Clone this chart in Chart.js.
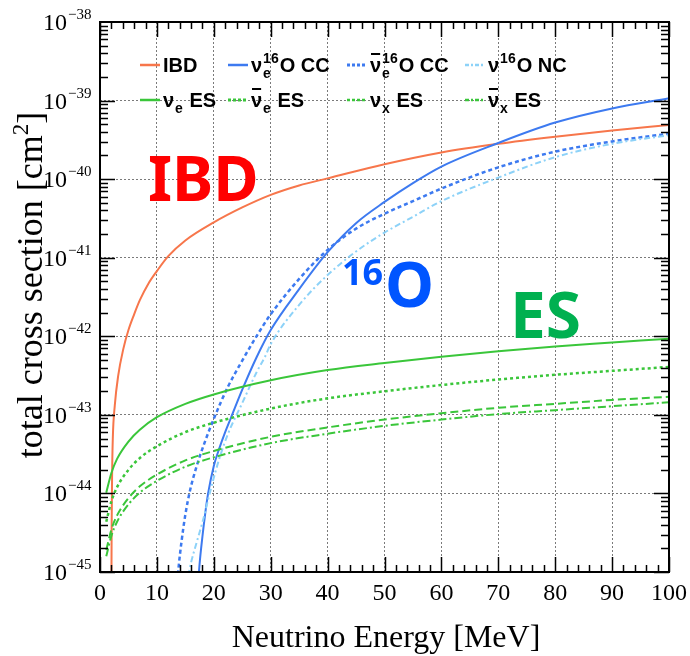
<!DOCTYPE html>
<html>
<head>
<meta charset="utf-8">
<script src="https://cdn.jsdelivr.net/npm/chart.js@4.4.1/dist/chart.umd.min.js"></script>
<style>
	html, body { margin: 0; padding: 0; background: #fff; }
	#wrap { width: 690px; height: 656px; }
</style>
</head>
<body>
<div id="wrap"><canvas id="xsec"></canvas></div>
<script>
( function () {
	'use strict';

	// neutrino energy [MeV] and log10(cross section / cm^2)
	var ibdE = [ 2.0, 2.05, 2.12, 2.25, 2.6, 3.2, 4.1, 5, 6, 7, 8.5, 10, 12, 15, 20, 25, 30, 35, 40, 50, 60, 70, 80, 90, 100 ];
	var ibdLog = [ -45.3, -44.4, -43.8, -43.3, -42.88, -42.5, -42.16, -41.92, -41.72, -41.54, -41.33, -41.17, -40.98, -40.78, -40.55, -40.36, -40.2, -40.08, -39.99, -39.81, -39.66, -39.55, -39.46, -39.38, -39.31 ];

	var nueOE = [ 17.1, 17.5, 18, 18.5, 19, 20, 21, 22, 23, 25, 27.5, 30, 35, 40, 45, 50, 55, 60, 70, 80, 90, 100 ];
	var nueOLog = [ -45.3, -44.9, -44.55, -44.25, -44.0, -43.65, -43.42, -43.22, -43.04, -42.68, -42.27, -41.92, -41.40, -40.93, -40.56, -40.29, -40.05, -39.84, -39.54, -39.28, -39.10, -38.97 ];

	var nuebOE = [ 13.4, 13.8, 14.35, 15, 15.8, 17, 18.5, 20, 22.5, 25, 27.5, 30, 35, 40, 45, 50, 55, 60, 70, 80, 90, 100 ];
	var nuebOLog = [ -45.3, -44.95, -44.6, -44.27, -43.97, -43.65, -43.33, -43.05, -42.64, -42.31, -42.0, -41.72, -41.27, -40.90, -40.63, -40.44, -40.28, -40.12, -39.85, -39.65, -39.52, -39.42 ];

	var ncOE = [ 15.5, 16, 17, 18, 19, 20, 21, 22.5, 25, 27.5, 29, 30, 35, 40, 45, 50, 55, 60, 70, 80, 90, 100 ];
	var ncOLog = [ -45.05, -44.88, -44.62, -44.37, -44.08, -43.8, -43.55, -43.24, -42.85, -42.46, -42.26, -42.1, -41.6, -41.22, -40.92, -40.68, -40.48, -40.28, -39.98, -39.72, -39.55, -39.44 ];

	var esE = [ 1.1, 2, 3, 5, 7, 10, 15, 20, 30, 40, 50, 60, 70, 80, 90, 100 ];
	var nueEsLog = [ -43.99, -43.74, -43.56, -43.34, -43.19, -43.03, -42.86, -42.74, -42.56, -42.43, -42.34, -42.26, -42.19, -42.13, -42.08, -42.03 ];
	var nuebEsLog = [ -44.36, -44.1, -43.92, -43.7, -43.55, -43.40, -43.22, -43.10, -42.92, -42.79, -42.70, -42.62, -42.55, -42.49, -42.44, -42.39 ];
	var nuxEsLog = [ -44.72, -44.46, -44.28, -44.06, -43.91, -43.76, -43.58, -43.46, -43.28, -43.16, -43.06, -42.98, -42.91, -42.86, -42.81, -42.77 ];
	var nuxbEsLog = [ -44.80, -44.54, -44.36, -44.14, -43.99, -43.84, -43.66, -43.54, -43.36, -43.24, -43.14, -43.06, -42.99, -42.94, -42.89, -42.84 ];

	var xTicks = [ 0, 10, 20, 30, 40, 50, 60, 70, 80, 90, 100 ];
	var yDecades = [ -45, -44, -43, -42, -41, -40, -39, -38 ];

	var orange = '#f7764b', blue = '#3d7af0', lightBlue = '#8dd2f8', green = '#3ac63a';
	var serif = '"Liberation Serif", "Times New Roman", serif';
	var sans = '"Liberation Sans", Arial, sans-serif';

	function pts( es, logs ) {
		return es.map( function ( e, i ) {
			return { x: e, y: Math.pow( 10, logs[ i ] ) };
		} );
	}

	function line( label, data, color, dash, width ) {
		return {
			label: label,
			data: data,
			borderColor: color,
			backgroundColor: color,
			borderWidth: width || 2,
			borderDash: dash || [],
			pointRadius: 0,
			fill: false,
			cubicInterpolationMode: 'monotone',
		};
	}

	var datasets = [
		line( 'nu_x-bar ES', pts( esE, nuxbEsLog ), green, [ 8, 3, 2, 3 ], 2 ),
		line( 'nu_x ES', pts( esE, nuxEsLog ), green, [ 8, 4 ], 2 ),
		line( 'nu_e-bar ES', pts( esE, nuebEsLog ), green, [ 3, 3 ], 2.5 ),
		line( 'nu_e ES', pts( esE, nueEsLog ), green, [], 2 ),
		line( 'nu 16O NC', pts( ncOE, ncOLog ), lightBlue, [ 6, 3, 2, 3 ], 2 ),
		line( 'nu_e-bar 16O CC', pts( nuebOE, nuebOLog ), blue, [ 4, 3 ], 2.5 ),
		line( 'nu_e 16O CC', pts( nueOE, nueOLog ), blue, [], 2 ),
		line( 'IBD', pts( ibdE, ibdLog ), orange, [], 2 ),
	];

	// legend: dataset index, sample x, row y, text pieces
	var legendItems = [
		{ ds: 7, x: 140, y: 65, parts: [ { t: 'IBD' } ] },
		{ ds: 6, x: 228, y: 65, parts: [ { t: 'ν' }, { sub: 'e', sup: '16' }, { t: 'O CC' } ] },
		{ ds: 5, x: 347, y: 65, parts: [ { t: 'ν', bar: true }, { sub: 'e', sup: '16' }, { t: 'O CC' } ] },
		{ ds: 4, x: 465, y: 65, parts: [ { t: 'ν' }, { sup: '16' }, { t: 'O NC' } ] },
		{ ds: 3, x: 140, y: 100, parts: [ { t: 'ν' }, { sub: 'e' }, { t: ' ES' } ] },
		{ ds: 2, x: 228, y: 100, parts: [ { t: 'ν', bar: true }, { sub: 'e' }, { t: ' ES' } ] },
		{ ds: 1, x: 347, y: 100, parts: [ { t: 'ν' }, { sub: 'x' }, { t: ' ES' } ] },
		{ ds: 0, x: 465, y: 100, parts: [ { t: 'ν', bar: true }, { sub: 'x' }, { t: ' ES' } ] },
	];

	function drawPieces( ctx, x, y, parts ) {
		parts.forEach( function ( p ) {
			if ( p.t ) {
				ctx.font = 'bold 20px ' + sans;
				ctx.fillText( p.t, x, y );
				var w = ctx.measureText( p.t ).width;
				if ( p.bar ) {
					ctx.fillRect( x + 1, y - 19, w - 2, 2 );
				}
				x += w;
			}
			if ( p.sub || p.sup ) {
				ctx.font = 'bold 14px ' + sans;
				var w1 = 0, w2 = 0;
				if ( p.sub ) {
					ctx.fillText( p.sub, x + 1, y + 6 );
					w1 = ctx.measureText( p.sub ).width;
				}
				if ( p.sup ) {
					ctx.fillText( p.sup, x + 1, y - 9 );
					w2 = ctx.measureText( p.sup ).width;
				}
				x += Math.max( w1, w2 ) + 2;
			}
		} );
	}

	var decor = {
		id: 'decor',
		afterDraw: function ( chart ) {
			var ctx = chart.ctx, a = chart.chartArea;
			var xs = chart.scales.x, ys = chart.scales.y;
			var v, k, m, px, py, len;
			ctx.save();

			// inward ticks on all four sides
			ctx.strokeStyle = '#000';
			ctx.lineWidth = 1.5;
			ctx.beginPath();
			for ( v = 0; v <= 100; v += 2 ) {
				px = Math.round( xs.getPixelForValue( v ) ) + 0.5;
				len = v % 10 === 0 ? 15 : 7;
				ctx.moveTo( px, a.bottom );
				ctx.lineTo( px, a.bottom - len );
				ctx.moveTo( px, a.top );
				ctx.lineTo( px, a.top + len );
			}
			for ( k = -45; k < -38; k++ ) {
				for ( m = 1; m <= 9; m++ ) {
					py = Math.round( ys.getPixelForValue( m * Math.pow( 10, k ) ) ) + 0.5;
					len = m === 1 ? 15 : 8;
					ctx.moveTo( a.left, py );
					ctx.lineTo( a.left + len, py );
					ctx.moveTo( a.right, py );
					ctx.lineTo( a.right - len, py );
				}
			}
			ctx.stroke();

			ctx.lineWidth = 2;
			ctx.strokeRect( a.left, a.top, a.right - a.left, a.bottom - a.top );

			// tick labels
			ctx.fillStyle = '#000';
			ctx.textBaseline = 'alphabetic';
			ctx.font = '24px ' + serif;
			ctx.textAlign = 'center';
			xTicks.forEach( function ( t ) {
				ctx.fillText( String( t ), xs.getPixelForValue( t ), a.bottom + 28 );
			} );
			yDecades.forEach( function ( d ) {
				py = ys.getPixelForValue( Math.pow( 10, d ) );
				ctx.font = '24px ' + serif;
				ctx.textAlign = 'right';
				ctx.fillText( '10', 67, py + 8 );
				ctx.font = '15px ' + serif;
				ctx.textAlign = 'left';
				ctx.fillText( '\u2212' + ( -d ), 68, py - 3 );
			} );

			// axis titles
			ctx.font = '32px ' + serif;
			ctx.textAlign = 'center';
			ctx.fillText( 'Neutrino Energy [MeV]', 386, 647 );

			ctx.save();
			ctx.translate( 42, 285 );
			ctx.rotate( -Math.PI / 2 );
			ctx.font = '36px ' + serif;
			var t1 = 'total cross section [cm', t3 = ']';
			var w1 = ctx.measureText( t1 ).width, w3 = ctx.measureText( t3 ).width;
			ctx.font = '23px ' + serif;
			var w2 = ctx.measureText( '2' ).width;
			var x0 = -( w1 + w2 + w3 ) / 2;
			ctx.textAlign = 'left';
			ctx.font = '36px ' + serif;
			ctx.fillText( t1, x0, 0 );
			ctx.fillText( t3, x0 + w1 + w2, 0 );
			ctx.font = '23px ' + serif;
			ctx.fillText( '2', x0 + w1, -14 );
			ctx.restore();

			// legend
			ctx.textAlign = 'left';
			legendItems.forEach( function ( it ) {
				var ds = chart.data.datasets[ it.ds ];
				ctx.save();
				ctx.strokeStyle = ds.borderColor;
				ctx.lineWidth = ds.borderWidth + 0.5;
				ctx.setLineDash( ds.borderDash.length > 2 ? [ 4, 2, 2, 2 ] : ds.borderDash.length ? [ 3, 2 ] : [] );
				ctx.beginPath();
				ctx.moveTo( it.x, it.y );
				ctx.lineTo( it.x + 20, it.y );
				ctx.stroke();
				ctx.restore();
				ctx.fillStyle = '#000';
				drawPieces( ctx, it.x + 23, it.y + 7, it.parts );
			} );

			// big channel labels
			ctx.font = 'bold 62px "Noto Sans", ' + sans;
			ctx.fillStyle = '#ff0000';
			ctx.fillText( 'IBD', 148, 201 );
			ctx.fillStyle = '#0055ff';
			ctx.font = 'bold 36px "Noto Sans", ' + sans;
			ctx.fillText( '16', 342, 285 );
			ctx.font = 'bold 62px "Noto Sans", ' + sans;
			ctx.fillText( 'O', 385, 307 );
			ctx.fillStyle = '#00b050';
			ctx.font = 'bold 64px "Noto Sans", ' + sans;
			ctx.fillText( 'ES', 510, 338 );

			ctx.restore();
		},
	};

	var gridOpts = { color: '#7a7a7a', lineWidth: 1, drawTicks: false };

	new Chart( document.getElementById( 'xsec' ).getContext( '2d' ), {
		type: 'line',
		data: { datasets: datasets },
		options: {
			responsive: true,
			maintainAspectRatio: false,
			animation: false,
			layout: { padding: { left: 100, right: 21, top: 22, bottom: 84 } },
			plugins: {
				legend: { display: false },
				tooltip: { enabled: false },
			},
			scales: {
				x: {
					type: 'linear',
					min: 0,
					max: 100,
					afterBuildTicks: function ( s ) {
						s.ticks = xTicks.map( function ( t ) { return { value: t }; } );
					},
					ticks: { display: false },
					grid: gridOpts,
					border: { display: false, dash: [ 2, 2 ] },
				},
				y: {
					type: 'logarithmic',
					min: 1e-45,
					max: 1e-38,
					afterBuildTicks: function ( s ) {
						s.ticks = yDecades.map( function ( d ) { return { value: Math.pow( 10, d ) }; } );
					},
					ticks: { display: false },
					grid: gridOpts,
					border: { display: false, dash: [ 2, 2 ] },
				},
			},
		},
		plugins: [ decor ],
	} );
} )();
</script>
</body>
</html>
